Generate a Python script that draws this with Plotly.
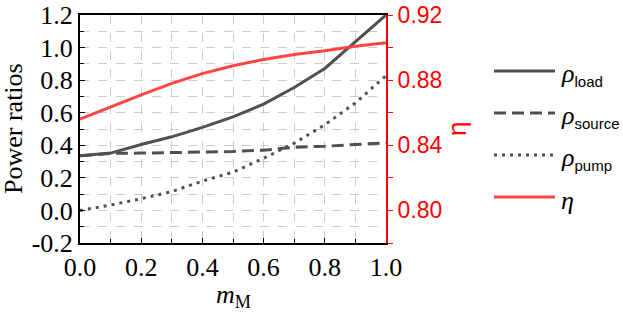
import plotly.graph_objects as go

m_M = [0.0, 0.1, 0.2, 0.3, 0.4, 0.5, 0.6, 0.7, 0.8, 0.9, 1.0]
rho_load = [0.335, 0.352, 0.405, 0.452, 0.510, 0.574, 0.653, 0.755, 0.872, 1.035, 1.200]
rho_source = [0.335, 0.350, 0.352, 0.355, 0.358, 0.362, 0.370, 0.388, 0.394, 0.404, 0.415]
rho_pump = [0.000, 0.033, 0.072, 0.116, 0.180, 0.235, 0.320, 0.413, 0.526, 0.660, 0.828]
eta = [0.856, 0.8637, 0.871, 0.878, 0.884, 0.8888, 0.8927, 0.8958, 0.898, 0.9008, 0.903]

left_ticks = [-0.2, 0.0, 0.2, 0.4, 0.6, 0.8, 1.0, 1.2]
right_ticks = [0.80, 0.84, 0.88, 0.92]
x_ticks = [0.0, 0.2, 0.4, 0.6, 0.8, 1.0]

GRAY = "#505050"
RED_LINE = "#ff4545"
SERIF = "Liberation Serif"
SANS = "Liberation Sans"

fig = go.Figure()
fig.add_trace(go.Scatter(x=m_M, y=rho_load, mode="lines", line=dict(color=GRAY, width=3), showlegend=False))
fig.add_trace(go.Scatter(x=m_M, y=rho_source, mode="lines", line=dict(color=GRAY, width=3, dash="12px,6px"), showlegend=False))
fig.add_trace(go.Scatter(x=m_M, y=rho_pump, mode="lines", line=dict(color=GRAY, width=3, dash="3px,5px"), showlegend=False))
fig.add_trace(go.Scatter(x=m_M, y=eta, mode="lines", line=dict(color=RED_LINE, width=3), yaxis="y2", showlegend=False))

W, H = 623, 319
L, R, T, B = 80, 237, 15, 76
pw = W - L - R
ph = H - T - B

def px(xp):
    return (xp - L) / pw

def py(yp):
    return (H - B - yp) / ph

fig.update_layout(
    width=W, height=H,
    margin=dict(l=L, r=R, t=T, b=B),
    paper_bgcolor="white", plot_bgcolor="white",
    xaxis=dict(
        range=[0, 1], tickvals=x_ticks, ticktext=[f"{v:.1f}" for v in x_ticks],
        automargin=False,
        showgrid=True, gridcolor="#cccccc", griddash="dash", gridwidth=1,
        minor=dict(dtick=0.1, showgrid=True, gridcolor="#cccccc", griddash="dash", ticks="inside", ticklen=4, tickcolor="black"),
        ticks="inside", ticklen=5, tickcolor="black",
        showline=True, linecolor="black", linewidth=2, mirror=True,
        zeroline=False,
        tickfont=dict(family=SERIF, size=26, color="black"),
    ),
    yaxis=dict(
        range=[-0.2, 1.2], tickvals=left_ticks, ticktext=[f"{v:.1f}" for v in left_ticks],
        automargin=False,
        showgrid=True, gridcolor="#cccccc", griddash="dash", gridwidth=1,
        minor=dict(dtick=0.1, showgrid=True, gridcolor="#cccccc", griddash="dash", ticks="inside", ticklen=4, tickcolor="black"),
        ticks="inside", ticklen=5, tickcolor="black",
        showline=True, linecolor="black", linewidth=2,
        zeroline=False,
        tickfont=dict(family=SERIF, size=26, color="black"),
    ),
    yaxis2=dict(
        overlaying="y", side="right", range=[0.78, 0.92],
        automargin=False,
        tickvals=right_ticks, ticktext=[f"{v:.2f}" for v in right_ticks],
        minor=dict(dtick=0.02, ticks="outside", ticklen=5, tickcolor="red", showgrid=False),
        ticks="outside", ticklen=5, tickcolor="red",
        showline=True, linecolor="red", linewidth=2,
        showgrid=False, zeroline=False,
        tickfont=dict(family=SANS, size=23, color="red"),
    ),
)

# axis titles
fig.add_annotation(xref="paper", yref="paper", x=0.5, y=py(296), xanchor="center", yanchor="middle",
                   text="<i>m</i><sub>M</sub>", showarrow=False,
                   font=dict(family=SERIF, size=26, color="black"))
fig.add_annotation(xref="paper", yref="paper", x=px(13), y=py(129), xanchor="center", yanchor="middle",
                   text="Power ratios", textangle=-90, showarrow=False,
                   font=dict(family=SERIF, size=26, color="black"))
fig.add_annotation(xref="paper", yref="paper", x=px(457), y=py(129), xanchor="center", yanchor="middle",
                   text="η", textangle=-90, showarrow=False,
                   font=dict(family=SANS, size=26, color="red"))

legend_items = [
    ("load", GRAY, "solid", 71),
    ("source", GRAY, "12px,6px", 113),
    ("pump", GRAY, "3px,5px", 155),
    (None, RED_LINE, "solid", 197),
]
for sub, color, dash, ypix in legend_items:
    fig.add_shape(type="line", xref="paper", yref="paper",
                  x0=px(494), x1=px(555), y0=py(ypix), y1=py(ypix),
                  line=dict(color=color, width=3, dash=dash))
    if sub is None:
        text = "<i>η</i>"
    else:
        text = f"<i>ρ</i><sub><span style='font-family:{SANS};font-size:15px'>{sub}</span></sub>"
    fig.add_annotation(xref="paper", yref="paper", x=px(559), y=py(ypix + 3),
                       xanchor="left", yanchor="middle", text=text, showarrow=False,
                       font=dict(family=SERIF, size=26, color="black"))

fig.write_html("out.html", config={"displayModeBar": False},
               post_script="document.body.style.margin='0';document.body.style.padding='0';")
